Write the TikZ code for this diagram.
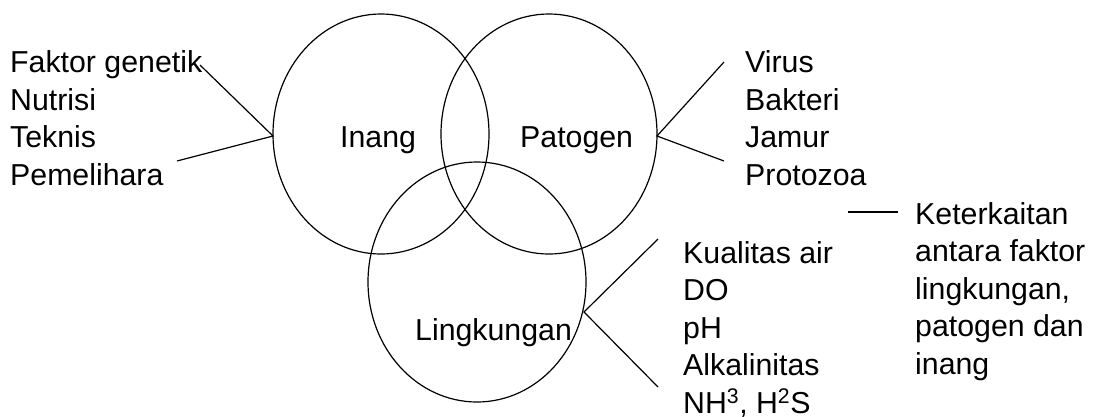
\documentclass[tikz,border=0pt]{standalone}
\usepackage{fontspec}
\setmainfont{Liberation Sans}
\usetikzlibrary{shapes.geometric}
\begin{document}
\begin{tikzpicture}[x=1pt,y=-1pt,
  venn/.style={draw, ellipse, line width=1.2pt, minimum width=216pt, minimum height=240pt, inner sep=0pt},
  lbl/.style={anchor=base west, inner sep=0pt, align=left, font=\fontsize{30.3}{37.5}\selectfont},
  conn/.style={line width=1.2pt}]
\useasboundingbox (0,0) rectangle (1100,416);
\node[venn] (inang) at (381,134) {};
\node[venn] (patogen) at (549,134) {};
\node[venn, minimum width=218pt] (ling) at (477,282) {};
\node[lbl] (tinang) at (340,147) {Inang};
\node[lbl] (tpatogen) at (520,147) {Patogen};
\node[lbl] (tling) at (415,340) {Lingkungan};
% base anchor of a multi-line node lies on its last line
\node[lbl] (linang) at (10,185) {Faktor genetik\\Nutrisi\\Teknis\\Pemelihara};
\node[lbl] (lpatogen) at (745,185) {Virus\\Bakteri\\Jamur\\Protozoa};
\node[lbl] (lling) at (683,413) {Kualitas air\\DO\\pH\\Alkalinitas\\NH\textsuperscript{3}, H\textsuperscript{2}S};
\node[lbl] (lket) at (915,374) {Keterkaitan\\antara faktor\\lingkungan,\\patogen dan\\inang};
\coordinate (a1) at (200,65);
\coordinate (a2) at (177,161);
\coordinate (b1) at (724,62);
\coordinate (b2) at (724,161);
\coordinate (c1) at (658,239);
\coordinate (c2) at (658,387);
\coordinate (d1) at (848,212);
\coordinate (d2) at (898,212);
\coordinate (ij) at (273,136);
\coordinate (pj) at (657,136);
\coordinate (lj) at (584,312);
\draw[conn] (a1) -- (ij) -- (a2);
\draw[conn] (b1) -- (pj) -- (b2);
\draw[conn] (c1) -- (lj) -- (c2);
\draw[conn] (d1) -- (d2);
\end{tikzpicture}
\end{document}
